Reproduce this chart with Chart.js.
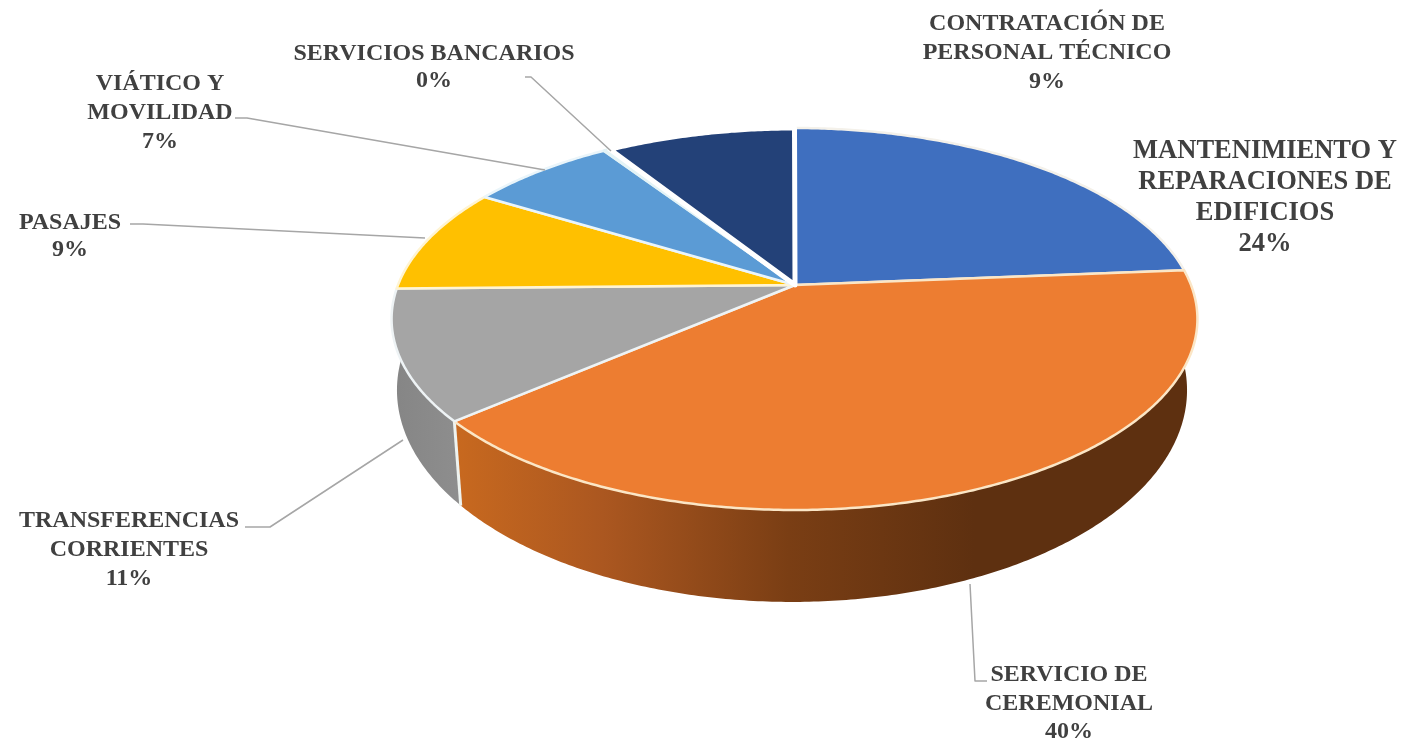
<!DOCTYPE html>
<html lang="es">
<head>
<meta charset="utf-8">
<title>Gastos</title>
<script src="https://cdn.jsdelivr.net/npm/chart.js@4"></script>
<style>
  html, body { margin: 0; padding: 0; background: #fff; overflow: hidden; }
  canvas { display: block; }
</style>
</head>
<body>
<canvas id="pieChart" width="1407" height="741"></canvas>
<script>
// --- data ---
const categories = [
    'MANTENIMIENTO Y|REPARACIONES DE|EDIFICIOS',
    'SERVICIO DE|CEREMONIAL',
    'TRANSFERENCIAS|CORRIENTES',
    'PASAJES',
    'VIÁTICO Y|MOVILIDAD',
    'SERVICIOS BANCARIOS',
    'CONTRATACIÓN DE|PERSONAL TÉCNICO'
];
const values = [23.7, 40, 11, 9, 7, 0.3, 9];

// --- styles ---
const sliceColors = ['#3f6fbf', '#ed7d31', '#a5a5a5', '#ffc000', '#5b9bd5', '#e3f3f6', '#234178'];
const edgeColors = ['#f4f1ea', '#fbe6c6', '#eef3f5', '#fff4d2', '#eaf5fa', '#e3f3f6', '#ffffff'];
const edgeWidths = [2.5, 2.5, 2.5, 2.5, 2.5, 3, 5];
const wallStops = {
    1: [[0, '#c8691f'], [0.2, '#ab5720'], [0.45, '#7a3e14'], [0.7, '#5e3010'], [1, '#5e3010']],
    2: [[0, '#858585'], [1, '#8e8e8e']]
};

// label placement: centre x, first baseline y, line height, font size, leader line
const labelBoxes = [
    { x: 1265, y: 158, lh: 31, size: 26.5, leader: null },
    { x: 1069, y: 681, lh: 28.5, size: 24, leader: [[970, 584], [975, 681], [987, 681]] },
    { x: 129, y: 527, lh: 29, size: 24, leader: [[245, 527], [270, 527], [403, 440]] },
    { x: 70, y: 229, lh: 27, size: 24, leader: [[130, 224], [143, 224], [425, 238]] },
    { x: 160, y: 90, lh: 29, size: 24, leader: [[235, 118], [247, 118], [545, 170]] },
    { x: 434, y: 60, lh: 27, size: 24, leader: [[525, 77], [531, 77], [611, 151]] },
    { x: 1047, y: 30, lh: 29, size: 24, leader: null }
];

// perspective of the tilted disc: v runs front-back, u left-right
const RX_FACTOR = 400 / 285;
const TOP = { c: -0.178, a: 134.2, dx: -0.5, dy: 0, k: 1 };
const BOTTOM = { c: -0.166, a: 147, dx: -3, dy: 70, k: 393 / 400 };

function project(el, angle, p) {
    const u = Math.cos(angle);
    const v = Math.sin(angle);
    const d = 1 + p.c * v;
    return {
        x: el.x + p.dx + el.outerRadius * RX_FACTOR * p.k * u / d,
        y: (p.a * v + el.y + p.dy) / d
    };
}

function rimPoints(el, p) {
    const steps = Math.max(2, Math.ceil((el.endAngle - el.startAngle) / 0.01));
    const pts = [];
    for (let i = 0; i <= steps; i++) {
        pts.push(project(el, el.startAngle + (el.endAngle - el.startAngle) * i / steps, p));
    }
    return pts;
}

const tiltedPie = {
    id: 'tiltedPie',
    beforeDatasetsDraw(chart) {
        const ctx = chart.ctx;
        const arcs = chart.getDatasetMeta(0).data;
        ctx.save();
        ctx.lineJoin = 'round';

        // side walls first, only the front slices show
        arcs.forEach((el, i) => {
            if (!wallStops[i]) return;
            const top = rimPoints(el, TOP);
            const bottom = rimPoints(el, BOTTOM).reverse();
            const xs = top.concat(bottom).map(pt => pt.x);
            const grad = ctx.createLinearGradient(Math.min(...xs), 0, Math.max(...xs), 0);
            wallStops[i].forEach(s => grad.addColorStop(s[0], s[1]));
            ctx.beginPath();
            top.concat(bottom).forEach((pt, n) => n ? ctx.lineTo(pt.x, pt.y) : ctx.moveTo(pt.x, pt.y));
            ctx.closePath();
            ctx.fillStyle = grad;
            ctx.fill();
        });

        // pale seam between the grey and orange walls
        const seamTop = project(arcs[1], arcs[1].endAngle, TOP);
        const seamBottom = project(arcs[1], arcs[1].endAngle, BOTTOM);
        ctx.beginPath();
        ctx.moveTo(seamTop.x, seamTop.y);
        ctx.lineTo(seamBottom.x, seamBottom.y);
        ctx.strokeStyle = '#eef3f0';
        ctx.lineWidth = 3;
        ctx.stroke();

        // top faces
        arcs.forEach(el => {
            ctx.beginPath();
            ctx.moveTo(el.x, el.y);
            rimPoints(el, TOP).forEach(pt => ctx.lineTo(pt.x, pt.y));
            ctx.closePath();
            ctx.fillStyle = el.options.backgroundColor;
            ctx.fill();
            ctx.strokeStyle = el.options.borderColor;
            ctx.lineWidth = el.options.borderWidth;
            ctx.stroke();
        });

        // leader lines and labels
        ctx.strokeStyle = '#a6a6a6';
        ctx.lineWidth = 1.5;
        labelBoxes.forEach(box => {
            if (!box.leader) return;
            ctx.beginPath();
            box.leader.forEach((pt, n) => n ? ctx.lineTo(pt[0], pt[1]) : ctx.moveTo(pt[0], pt[1]));
            ctx.stroke();
        });
        ctx.fillStyle = '#404040';
        ctx.textAlign = 'center';
        ctx.textBaseline = 'alphabetic';
        categories.forEach((name, i) => {
            const box = labelBoxes[i];
            const lines = name.split('|').concat(Math.round(values[i]) + '%');
            ctx.font = 'bold ' + box.size + 'px "Liberation Serif"';
            lines.forEach((line, n) => ctx.fillText(line, box.x, box.y + n * box.lh));
        });
        ctx.restore();
        return false;
    }
};

new Chart(document.getElementById('pieChart').getContext('2d'), {
    type: 'pie',
    data: {
        labels: categories.map(c => c.replace(/\|/g, ' ')),
        datasets: [{
            data: values,
            backgroundColor: sliceColors,
            borderColor: edgeColors,
            borderWidth: edgeWidths
        }]
    },
    options: {
        responsive: false,
        animation: false,
        events: [],
        // puts the pie apex at (795, 285)
        layout: { padding: { left: 183, bottom: 171 } },
        plugins: { legend: { display: false }, tooltip: { enabled: false } }
    },
    plugins: [tiltedPie]
});
</script>
</body>
</html>
